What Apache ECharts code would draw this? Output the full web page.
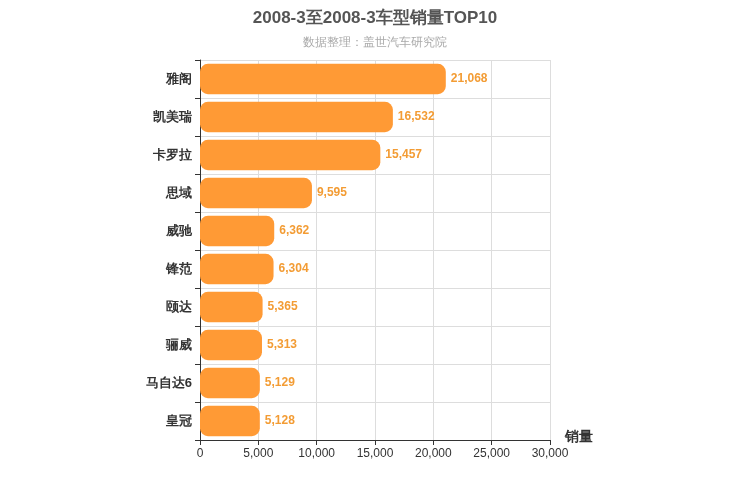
<!DOCTYPE html>
<html><head><meta charset="utf-8">
<script src="https://cdn.jsdelivr.net/npm/echarts@6/dist/echarts.min.js"></script>
<style>html,body{margin:0;padding:0;}#c{width:750px;height:500px;}</style>
</head><body><div id="c"></div>
<script>
const categories = ['雅阁','凯美瑞','卡罗拉','思域','威驰','锋范','颐达','骊威','马自达6','皇冠'];
const sales = [21068,16532,15457,9595,6362,6304,5365,5313,5129,5128];
const chart = echarts.init(document.getElementById('c'));
chart.setOption({
  title:{text:'2008-3至2008-3车型销量TOP10',subtext:'数据整理：盖世汽车研究院',left:'center',top:5,
    textStyle:{fontSize:17,fontWeight:'bold',color:'#555'},subtextStyle:{fontSize:12,color:'#aaa'},itemGap:10},
  grid:{left:200,right:200,top:60,bottom:60},
  xAxis:{type:'value',min:0,max:30000,interval:5000,name:'销量',nameLocation:'end',nameGap:15,
    nameTextStyle:{fontWeight:'bold',fontSize:14,color:'#333',verticalAlign:'top',padding:[-10,0,0,0]},
    axisLine:{show:true,lineStyle:{color:'#333'}},axisTick:{show:true},
    axisLabel:{color:'#333',fontSize:12},splitLine:{lineStyle:{color:'#ddd'}}},
  yAxis:{type:'category',data:categories,inverse:true,
    axisLine:{lineStyle:{color:'#333'}},axisTick:{show:true},
    axisLabel:{color:'#333',fontWeight:'bold',fontSize:13},
    splitLine:{show:true,lineStyle:{color:'#ddd'}}},
  series:[{type:'bar',data:sales,barWidth:'80%',
    itemStyle:{color:'#ff9a35',borderRadius:8},
    label:{show:true,position:'right',color:'#f39c34',fontWeight:'bold',fontSize:12,
      formatter:p=>p.value.toLocaleString('en-US')}}]
});
</script></body></html>
